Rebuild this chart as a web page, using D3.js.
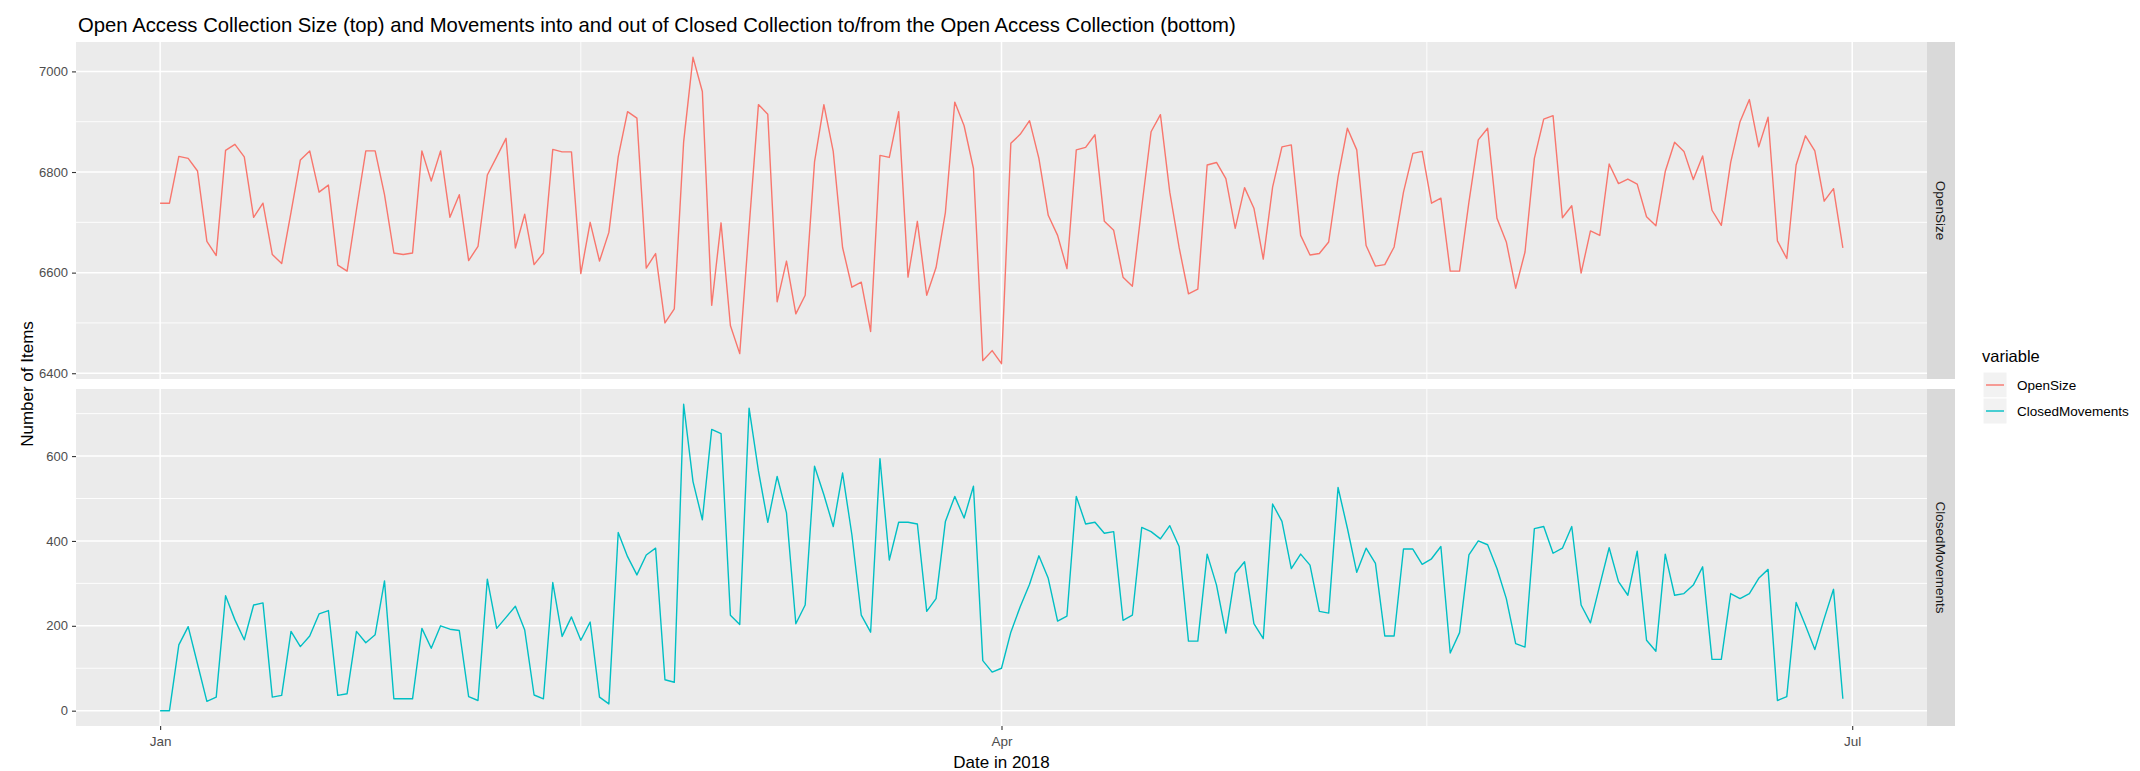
<!DOCTYPE html>
<html>
<head>
<meta charset="utf-8">
<script src="https://cdn.jsdelivr.net/npm/d3@7"></script>
<style>
  body { margin: 0; background: #fff; }
  svg { display: block; font-family: "Liberation Sans", Arial, sans-serif; }
</style>
</head>
<body>
<div id="chart"></div>
<script>
// daily values, 1 Jan 2018 .. 30 Jun 2018
var startDate = "2018-01-01";
var endDate = "2018-06-30";

var openSize = [
  6738, 6738, 6831, 6827, 6802, 6662, 6634, 6843, 6855, 6830, 6710, 6738, 6636, 6618, 6720,
  6824, 6842, 6760, 6774, 6615, 6603, 6725, 6842, 6842, 6755, 6639, 6636, 6639, 6842, 6782,
  6842, 6710, 6755, 6624, 6652, 6794, 6830, 6867, 6649, 6716, 6616, 6639, 6845, 6840, 6840,
  6598, 6700, 6623, 6680, 6830, 6920, 6907, 6609, 6638, 6500, 6528, 6860, 7028, 6960, 6535,
  6699, 6495, 6439, 6690, 6934, 6915, 6542, 6623, 6518, 6555, 6820, 6934, 6841, 6650, 6571,
  6581, 6483, 6833, 6829, 6920, 6591, 6702, 6555, 6610, 6720, 6939, 6892, 6807, 6425, 6445,
  6419, 6857, 6875, 6902, 6827, 6714, 6674, 6608, 6844, 6849, 6874, 6702, 6684, 6591, 6573,
  6730, 6880, 6914, 6760, 6650, 6558, 6567, 6814, 6819, 6787, 6688, 6769, 6728, 6627, 6770,
  6850, 6854, 6674, 6635, 6638, 6661, 6790, 6887, 6844, 6654, 6613, 6616, 6651, 6760, 6837,
  6841, 6738, 6748, 6603, 6603, 6740, 6864, 6887, 6708, 6661, 6569, 6641, 6827, 6905, 6912,
  6709, 6733, 6599, 6683, 6674, 6816, 6777, 6786, 6776, 6711, 6693, 6801, 6859, 6841, 6785,
  6832, 6724, 6694, 6819, 6900, 6944, 6850, 6909, 6663, 6628, 6814, 6872, 6842, 6742, 6767,
  6649
];

var closedMovements = [
  0, 0, 155, 198, 110, 22, 32, 271, 214, 167, 249, 254, 32, 36, 187,
  151, 176, 228, 236, 36, 40, 187, 160, 179, 306, 28, 28, 28, 194, 147,
  200, 192, 189, 33, 24, 310, 194, 220, 246, 190, 37, 28, 302, 175, 221,
  166, 209, 32, 16, 420, 363, 320, 367, 383, 73, 67, 722, 540, 450, 663,
  653, 225, 203, 713, 565, 444, 552, 466, 205, 249, 576, 509, 434, 560, 414,
  225, 185, 594, 355, 444, 444, 440, 234, 264, 446, 505, 454, 529, 118, 91,
  100, 185, 245, 298, 365, 312, 211, 223, 505, 440, 444, 418, 422, 213, 225,
  432, 422, 405, 436, 387, 164, 164, 369, 296, 183, 324, 351, 205, 170, 487,
  446, 335, 369, 343, 234, 230, 526, 430, 326, 383, 347, 176, 176, 381, 381,
  345, 358, 387, 136, 184, 367, 400, 391, 335, 264, 158, 150, 429, 434, 371,
  383, 434, 249, 207, 296, 384, 304, 272, 376, 166, 140, 369, 272, 276, 296,
  339, 121, 121, 276, 264, 276, 312, 333, 24, 33, 255, 201, 144, 217, 286,
  28
];

var seriesNames = ["OpenSize", "ClosedMovements"];
var seriesColors = ["#F8766D", "#00BFC4"];
var openTicks = [6400, 6600, 6800, 7000];
var closedTicks = [0, 200, 400, 600];
var xTickDates = ["2018-01-01", "2018-04-01", "2018-07-01"];
var xTickLabels = ["Jan", "Apr", "Jul"];

var titleText = "Open Access Collection Size (top) and Movements into and out of Closed Collection to/from the Open Access Collection (bottom)";

var W = 2140, H = 771;
var panelLeft = 76, panelRight = 1927;
var panelTop = 42, panelH = 337, panelGap = 10;
var stripW = 28;

var parseDate = d3.utcParse("%Y-%m-%d");
var dates = d3.utcDay.range(parseDate(startDate), d3.utcDay.offset(parseDate(endDate), 1));
var tickDates = xTickDates.map(parseDate);

var svg = d3.select("#chart").append("svg")
  .attr("width", W)
  .attr("height", H);

svg.append("rect").attr("width", W).attr("height", H).attr("fill", "#fff");

// x scale with ggplot style 5% expansion
var xExt = d3.extent(dates);
var xPad = (xExt[1] - xExt[0]) * 0.05;
var x = d3.scaleUtc()
  .domain([new Date(+xExt[0] - xPad), new Date(+xExt[1] + xPad)])
  .range([panelLeft, panelRight]);

// minor breaks sit halfway between the major ones
function midpoints(arr) {
  var out = [];
  for (var i = 0; i < arr.length - 1; i++) out.push((+arr[i] + +arr[i + 1]) / 2);
  return out;
}
var xMinor = midpoints(tickDates).map(function (t) { return new Date(t); });

var facets = [
  { name: seriesNames[0], values: openSize, ticks: openTicks, color: seriesColors[0] },
  { name: seriesNames[1], values: closedMovements, ticks: closedTicks, color: seriesColors[1] }
];

facets.forEach(function (f, i) {
  var top = panelTop + i * (panelH + panelGap);
  var bottom = top + panelH;

  var ext = d3.extent(f.values);
  var pad = (ext[1] - ext[0]) * 0.05;
  var y = d3.scaleLinear()
    .domain([ext[0] - pad, ext[1] + pad])
    .range([bottom, top]);

  var step = f.ticks[1] - f.ticks[0];
  var extTicks = [f.ticks[0] - step].concat(f.ticks, [f.ticks[f.ticks.length - 1] + step]);
  var yMinor = midpoints(extTicks).filter(function (v) {
    return v >= y.domain()[0] && v <= y.domain()[1];
  });

  var g = svg.append("g").attr("class", "panel");

  g.append("rect")
    .attr("x", panelLeft).attr("y", top)
    .attr("width", panelRight - panelLeft).attr("height", panelH)
    .attr("fill", "#EBEBEB");

  // minor grid
  g.selectAll(".hminor").data(yMinor).enter().append("line")
    .attr("x1", panelLeft).attr("x2", panelRight)
    .attr("y1", function (d) { return y(d); }).attr("y2", function (d) { return y(d); })
    .attr("stroke", "#fff").attr("stroke-width", 0.9);
  g.selectAll(".vminor").data(xMinor).enter().append("line")
    .attr("y1", top).attr("y2", bottom)
    .attr("x1", function (d) { return x(d); }).attr("x2", function (d) { return x(d); })
    .attr("stroke", "#fff").attr("stroke-width", 0.9);

  // major grid
  g.selectAll(".hmajor").data(f.ticks).enter().append("line")
    .attr("x1", panelLeft).attr("x2", panelRight)
    .attr("y1", function (d) { return y(d); }).attr("y2", function (d) { return y(d); })
    .attr("stroke", "#fff").attr("stroke-width", 1.5);
  g.selectAll(".vmajor").data(tickDates).enter().append("line")
    .attr("y1", top).attr("y2", bottom)
    .attr("x1", function (d) { return x(d); }).attr("x2", function (d) { return x(d); })
    .attr("stroke", "#fff").attr("stroke-width", 1.5);

  // series line
  var line = d3.line()
    .x(function (d, j) { return x(dates[j]); })
    .y(function (d) { return y(d); });

  g.append("path")
    .datum(f.values)
    .attr("fill", "none")
    .attr("stroke", f.color)
    .attr("stroke-width", 1.4)
    .attr("stroke-linejoin", "round")
    .attr("d", line);

  // y axis
  var yAxis = svg.append("g")
    .attr("transform", "translate(" + panelLeft + ",0)")
    .call(d3.axisLeft(y).tickValues(f.ticks).tickSize(4).tickPadding(4).tickFormat(d3.format("d")));
  yAxis.select(".domain").remove();
  yAxis.selectAll(".tick line").attr("stroke", "#333333").attr("stroke-width", 1.1);
  yAxis.selectAll(".tick text")
    .attr("fill", "#4D4D4D")
    .style("font-size", "13px")
    .style("font-family", "'Liberation Sans', Arial, sans-serif");

  // facet strip
  svg.append("rect")
    .attr("x", panelRight).attr("y", top)
    .attr("width", stripW).attr("height", panelH)
    .attr("fill", "#D9D9D9");
  var cx = panelRight + stripW / 2, cy = top + panelH / 2;
  svg.append("text")
    .attr("transform", "translate(" + cx + "," + cy + ") rotate(90)")
    .attr("text-anchor", "middle")
    .attr("dy", "0.35em")
    .attr("fill", "#1A1A1A")
    .style("font-size", "13.5px")
    .text(f.name);

  if (i === facets.length - 1) {
    var xAxis = svg.append("g")
      .attr("transform", "translate(0," + bottom + ")")
      .call(d3.axisBottom(x).tickValues(tickDates).tickSize(4).tickPadding(6)
        .tickFormat(function (d, k) { return xTickLabels[k]; }));
    xAxis.select(".domain").remove();
    xAxis.selectAll(".tick line").attr("stroke", "#333333").attr("stroke-width", 1.1);
    xAxis.selectAll(".tick text")
      .attr("fill", "#4D4D4D")
      .style("font-size", "13.5px")
      .style("font-family", "'Liberation Sans', Arial, sans-serif");
  }
});

// title
svg.append("text")
  .attr("x", 78).attr("y", 32)
  .attr("fill", "#000")
  .style("font-size", "20.3px")
  .text(titleText);

// axis titles
svg.append("text")
  .attr("x", (panelLeft + panelRight) / 2).attr("y", 768)
  .attr("text-anchor", "middle")
  .attr("fill", "#000")
  .style("font-size", "17px")
  .text("Date in 2018");

svg.append("text")
  .attr("transform", "translate(33," + (panelTop + (2 * panelH + panelGap) / 2) + ") rotate(-90)")
  .attr("text-anchor", "middle")
  .attr("fill", "#000")
  .style("font-size", "17px")
  .text("Number of Items");

// legend
var legend = svg.append("g").attr("transform", "translate(1982,0)");
legend.append("text")
  .attr("x", 0).attr("y", 362)
  .attr("fill", "#000")
  .style("font-size", "16.5px")
  .text("variable");

var keyH = 26, keyW = 24, keyTop = 372;
var items = legend.selectAll(".item").data(seriesNames).enter().append("g")
  .attr("transform", function (d, i) { return "translate(0," + (keyTop + i * keyH) + ")"; });
items.append("rect")
  .attr("x", 1).attr("y", 0)
  .attr("width", keyW).attr("height", keyH)
  .attr("fill", "#F2F2F2")
  .attr("stroke", "#fff").attr("stroke-width", 1);
items.append("line")
  .attr("x1", 4).attr("x2", keyW - 2)
  .attr("y1", keyH / 2).attr("y2", keyH / 2)
  .attr("stroke", function (d, i) { return seriesColors[i]; })
  .attr("stroke-width", 1.4);
items.append("text")
  .attr("x", 35).attr("y", keyH / 2)
  .attr("dy", "0.35em")
  .attr("fill", "#000")
  .style("font-size", "13.5px")
  .text(function (d) { return d; });
</script>
</body>
</html>
